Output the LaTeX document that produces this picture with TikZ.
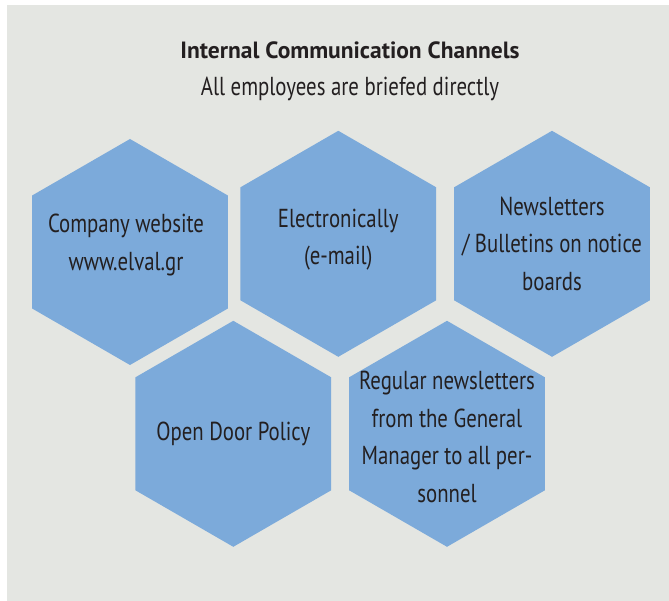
\documentclass[tikz,border=0pt]{standalone}
\usepackage{fontspec}
\setmainfont{PT Sans}[FakeStretch=0.8]
\newfontfamily\titlefont{PT Sans}
\usepackage{tikz}
\usetikzlibrary{shapes.geometric}

\definecolor{cellblue}{HTML}{7CAADA}
\definecolor{panelgrey}{HTML}{E4E6E2}
\definecolor{inkdark}{HTML}{231F20}

\begin{document}
\begin{tikzpicture}[x=1pt,y=-1pt]

	\tikzset{
		cell/.style={
				regular polygon, regular polygon sides=6, shape border rotate=30, fill=cellblue, inner sep=0pt, outer sep=0pt, minimum size=226pt
			},
		celltext/.style={
				text=inkdark, align=center, inner sep=0pt, font=\fontsize{26}{37.5}\selectfont
			},
		heading/.style={
				anchor=base, text=inkdark, inner sep=0pt
			},
	}
	\useasboundingbox (0,0) rectangle (669,601);
	\fill[panelgrey] (7,5) rectangle (669,601);

	\node[heading, font=\titlefont\fontsize{23.5}{28}\selectfont\bfseries](title) at (350,58.3){Internal Communication Channels};
	\node[heading, font=\fontsize{26}{30}\selectfont](sub) at (350,95.7){All employees are briefed directly};

	% top row
	\node[cell, label={[celltext, yshift=7pt, xshift=-4pt]center:{Company website\\www.elval.gr}}](web) at (130,252){};
	\node[cell, label={[celltext, yshift=4pt]center:{Electronically\\(e-mail)}}](mail) at (338.3,243.8){};
	\node[cell, label={[celltext]center:{Newsletters\\/ Bulletins on notice\\boards}}](board) at (552,243.8){};

	% bottom row
	\node[cell, label={[celltext]center:{Open Door Policy}}](door) at (233.3,433.8){};
	\node[cell, label={[celltext, yshift=-3pt]center:{Regular newsletters\\from the General\\Manager to all per-\\sonnel}}](gm) at (447,433.8){};

\end{tikzpicture}
\end{document}
